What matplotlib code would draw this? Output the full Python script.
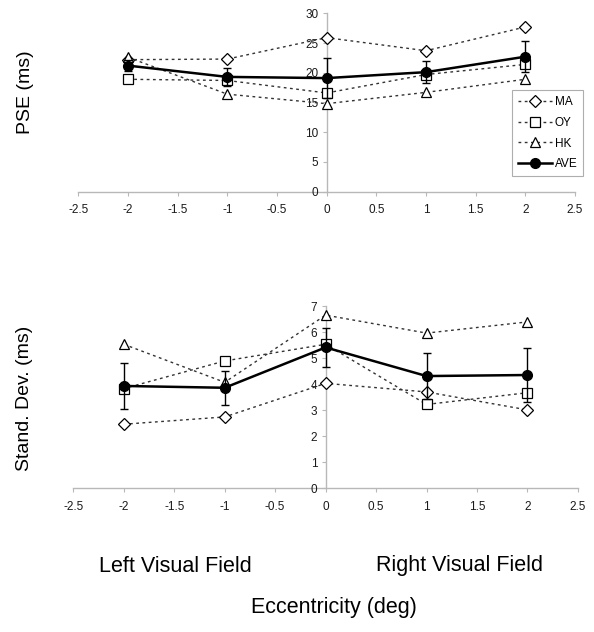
import matplotlib
matplotlib.use("Agg")
import matplotlib.pyplot as plt

plt.rcParams['font.family'] = ['Liberation Sans', 'DejaVu Sans']

ecc = [-2, -1, 0, 1, 2]
xticks = [-2.5, -2, -1.5, -1, -0.5, 0, 0.5, 1, 1.5, 2, 2.5]
xticklabels = ['-2.5', '-2', '-1.5', '-1', '-0.5', '0', '0.5', '1', '1.5', '2', '2.5']

# PSE (ms)
pse_ma = [22.2, 22.3, 25.9, 23.7, 27.7]
pse_oy = [18.9, 18.7, 16.6, 19.7, 21.4]
pse_hk = [22.6, 16.4, 14.8, 16.7, 18.9]
pse_ave = [21.2, 19.3, 19.1, 20.1, 22.7]
pse_err = [0.9, 1.5, 3.4, 1.9, 2.6]
pse_yticks = [0, 5, 10, 15, 20, 25, 30]

# Standard deviation (ms)
sd_ma = [2.46, 2.74, 4.03, 3.70, 3.01]
sd_oy = [3.83, 4.89, 5.53, 3.22, 3.67]
sd_hk = [5.53, 4.07, 6.65, 5.96, 6.39]
sd_ave = [3.93, 3.86, 5.41, 4.31, 4.35]
sd_err = [0.9, 0.65, 0.75, 0.87, 1.05]
sd_yticks = [0, 1, 2, 3, 4, 5, 6, 7]

series_names = ['MA', 'OY', 'HK', 'AVE']

fig = plt.figure(figsize=(5.94, 6.32), dpi=100)
ax1 = fig.add_axes([0.1318, 0.6967, 0.8362, 0.2823])
ax2 = fig.add_axes([0.1234, 0.2274, 0.8496, 0.2884])

axis_col = '#b8b8b8'
dot = (0, (2, 2.5))


def draw(ax, ma, oy, hk, ave, err, yticks):
    ax.plot(ecc, ma, linestyle=dot, color='#333333', lw=1.0, marker='D', ms=6,
            mfc='white', mec='black', mew=0.9, label=series_names[0], zorder=3)
    ax.plot(ecc, oy, linestyle=dot, color='#333333', lw=1.0, marker='s', ms=7,
            mfc='white', mec='black', mew=0.9, label=series_names[1], zorder=3)
    ax.plot(ecc, hk, linestyle=dot, color='#333333', lw=1.0, marker='^', ms=7.5,
            mfc='white', mec='black', mew=0.9, label=series_names[2], zorder=3)
    ax.errorbar(ecc, ave, yerr=err, fmt='none', ecolor='black', elinewidth=1.0,
                capsize=3, capthick=1.0, zorder=4)
    ax.plot(ecc, ave, color='black', lw=1.8, marker='o', ms=7,
            mfc='black', mec='black', label=series_names[3], zorder=5)
    ax.set_xlim(-2.5, 2.5)
    ax.set_ylim(yticks[0], yticks[-1])
    ax.set_xticks(xticks)
    ax.set_xticklabels(xticklabels)
    ax.set_yticks(yticks)
    ax.spines['left'].set_position(('data', 0))
    ax.spines['bottom'].set_position(('data', 0))
    ax.spines['top'].set_visible(False)
    ax.spines['right'].set_visible(False)
    for s in ('left', 'bottom'):
        ax.spines[s].set_color(axis_col)
        ax.spines[s].set_linewidth(1.0)
    ax.tick_params(axis='both', direction='out', length=3, width=0.8,
                   color=axis_col, labelsize=8.5, labelcolor='#1a1a1a', pad=3)
    ax.tick_params(axis='x', pad=6)
    ax.set_facecolor('none')
    for sp in ax.spines.values():
        sp.set_zorder(1)


draw(ax1, pse_ma, pse_oy, pse_hk, pse_ave, pse_err, pse_yticks)
draw(ax2, sd_ma, sd_oy, sd_hk, sd_ave, sd_err, sd_yticks)

handles, labels = ax1.get_legend_handles_labels()
leg = fig.legend(handles, labels, loc='upper left',
                 bbox_to_anchor=(0.862, 0.8576), bbox_transform=fig.transFigure,
                 borderaxespad=0, fontsize=8.5, frameon=True, fancybox=False,
                 handlelength=2.9, handletextpad=0.2, labelspacing=0.75,
                 borderpad=0.5, edgecolor='#9a9a9a')
leg.get_frame().set_linewidth(0.8)

fig.text(25 / 594, 1 - 92 / 632, 'PSE (ms)', rotation=90, ha='center', va='center', fontsize=14)
fig.text(25 / 594, 1 - 398 / 632, 'Stand. Dev. (ms)', rotation=90, ha='center', va='center', fontsize=14)
fig.text(175 / 594, 1 - 566 / 632, 'Left Visual Field', ha='center', va='center', fontsize=15.5)
fig.text(459 / 594, 1 - 566 / 632, 'Right Visual Field', ha='center', va='center', fontsize=15.5)
fig.text(334 / 594, 1 - 608 / 632, 'Eccentricity (deg)', ha='center', va='center', fontsize=15.5)

fig.savefig('out.png', dpi=100, facecolor='white')
